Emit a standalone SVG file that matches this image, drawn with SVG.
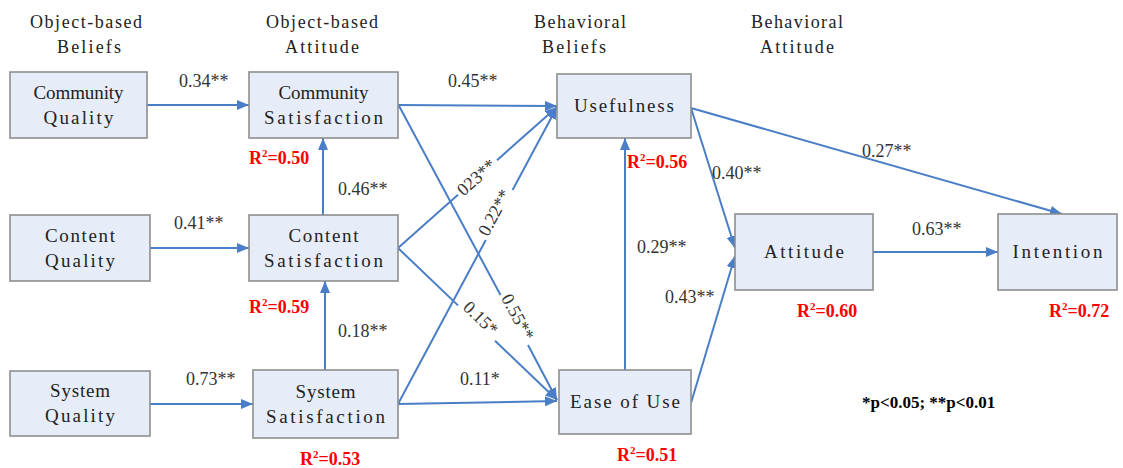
<svg xmlns="http://www.w3.org/2000/svg" width="1123" height="468" viewBox="0 0 1123 468">
<style>
.box{fill:#E7EDF8;stroke:#8E8E8E;stroke-width:1.6}
.bt{font-family:"Liberation Serif",serif;font-size:19px;fill:#222;text-anchor:middle}
.hd{font-family:"Liberation Serif",serif;font-size:18px;fill:#222;text-anchor:middle}
.lb{font-family:"Liberation Serif",serif;font-size:18px;fill:#333}
.rl{font-family:"Liberation Serif",serif;font-size:18px;fill:#333;text-anchor:middle}
.r2{font-family:"Liberation Serif",serif;font-size:18px;font-weight:bold;fill:#FF0000}
.ln{fill:none;stroke:#4A7EC7;stroke-width:2;marker-end:url(#ah)}
</style>
<defs>
<marker id="ah" markerUnits="userSpaceOnUse" markerWidth="14" markerHeight="12" refX="12" refY="5" orient="auto">
<path d="M0,0 L12,5 L0,10 z" fill="#4A7EC7"/>
</marker>
</defs>
<rect width="1123" height="468" fill="#fff"/>
<g id="headers">
<text class="hd" x="86" y="28" textLength="112" lengthAdjust="spacing">Object-based</text>
<text class="hd" x="89" y="53" textLength="64" lengthAdjust="spacing">Beliefs</text>
<text class="hd" x="322" y="28" textLength="112" lengthAdjust="spacing">Object-based</text>
<text class="hd" x="322" y="53" textLength="74" lengthAdjust="spacing">Attitude</text>
<text class="hd" x="580" y="28" textLength="92" lengthAdjust="spacing">Behavioral</text>
<text class="hd" x="574" y="53" textLength="64" lengthAdjust="spacing">Beliefs</text>
<text class="hd" x="797" y="28" textLength="92" lengthAdjust="spacing">Behavioral</text>
<text class="hd" x="797" y="53" textLength="74" lengthAdjust="spacing">Attitude</text>
</g>
<g id="connectors">
<path class="ln" d="M147,105 L249,105"/>
<path class="ln" d="M150,248 L249,248"/>
<path class="ln" d="M150,404 L253,404"/>
<path class="ln" d="M323,215 L323,138"/>
<path class="ln" d="M325,370 L325,281"/>
<path class="ln" d="M398,105 L557,106"/>
<path class="ln" d="M398,104 L500.5,295 M528,345 L557,400"/>
<path class="ln" d="M398,248 L458,194.8 M497,160.2 L557,107"/>
<path class="ln" d="M398,248 L458,305.4 M495,340.7 L557,400"/>
<path class="ln" d="M398,404 L485.8,240 M512.6,190 L557,107"/>
<path class="ln" d="M398,404 L557,401"/>
<path class="ln" d="M625,370 L625,138"/>
<path class="ln" d="M691,108 L735,248"/>
<path class="ln" d="M691,403 L735,256"/>
<path class="ln" d="M691,108 L1062,214"/>
<path class="ln" d="M873,252 L998,252"/>
</g>
<g id="edge-labels">
<text class="lb" x="179" y="87">0.34**</text>
<text class="lb" x="174" y="229">0.41**</text>
<text class="lb" x="186" y="385">0.73**</text>
<text class="lb" x="338" y="195">0.46**</text>
<text class="lb" x="338" y="337">0.18**</text>
<text class="lb" x="448" y="87">0.45**</text>
<text class="lb" x="460" y="385">0.11*</text>
<text class="lb" x="637" y="253">0.29**</text>
<text class="lb" x="712" y="179">0.40**</text>
<text class="lb" x="665" y="303">0.43**</text>
<text class="lb" x="862" y="157">0.27**</text>
<text class="lb" x="912" y="235">0.63**</text>
<text class="rl" transform="translate(516,318) rotate(61.8)" y="4">0.55**</text>
<text class="rl" transform="translate(477,178) rotate(-41.6)" y="5">023**</text>
<text class="rl" transform="translate(478,321) rotate(43.7)" y="2">0.15*</text>
<text class="rl" transform="translate(497,214) rotate(-61.8)" y="3">0.22**</text>
</g>
<g id="community-quality">
<rect class="box" x="10" y="72" width="137" height="66"/>
<text class="bt" x="78.5" y="99" textLength="90" lengthAdjust="spacing">Community</text>
<text class="bt" x="78.5" y="124" textLength="70" lengthAdjust="spacing">Quality</text>
</g>
<g id="community-satisfaction">
<rect class="box" x="249" y="72" width="149" height="66"/>
<text class="bt" x="323.5" y="99" textLength="90" lengthAdjust="spacing">Community</text>
<text class="bt" x="323.5" y="124" textLength="119" lengthAdjust="spacing">Satisfaction</text>
<text class="r2" x="249" y="164">R<tspan dy="-7" font-size="11">2</tspan><tspan dy="7">=0.50</tspan></text>
</g>
<g id="content-quality">
<rect class="box" x="10" y="215" width="140" height="66"/>
<text class="bt" x="80" y="242" textLength="70" lengthAdjust="spacing">Content</text>
<text class="bt" x="80" y="267" textLength="70" lengthAdjust="spacing">Quality</text>
</g>
<g id="content-satisfaction">
<rect class="box" x="249" y="215" width="149" height="66"/>
<text class="bt" x="323.5" y="242" textLength="70" lengthAdjust="spacing">Content</text>
<text class="bt" x="323.5" y="267" textLength="119" lengthAdjust="spacing">Satisfaction</text>
<text class="r2" x="249" y="313">R<tspan dy="-7" font-size="11">2</tspan><tspan dy="7">=0.59</tspan></text>
</g>
<g id="system-quality">
<rect class="box" x="10" y="371" width="140" height="65"/>
<text class="bt" x="80" y="397" textLength="60" lengthAdjust="spacing">System</text>
<text class="bt" x="80" y="422" textLength="70" lengthAdjust="spacing">Quality</text>
</g>
<g id="system-satisfaction">
<rect class="box" x="253" y="370" width="145" height="68"/>
<text class="bt" x="325.5" y="398" textLength="60" lengthAdjust="spacing">System</text>
<text class="bt" x="325.5" y="423" textLength="119" lengthAdjust="spacing">Satisfaction</text>
<text class="r2" x="300" y="465">R<tspan dy="-7" font-size="11">2</tspan><tspan dy="7">=0.53</tspan></text>
</g>
<g id="usefulness">
<rect class="box" x="557" y="74" width="134" height="64"/>
<text class="bt" x="624" y="112" textLength="100" lengthAdjust="spacing">Usefulness</text>
<text class="r2" x="627" y="168">R<tspan dy="-7" font-size="11">2</tspan><tspan dy="7">=0.56</tspan></text>
</g>
<g id="ease-of-use">
<rect class="box" x="559" y="370" width="132" height="64"/>
<text class="bt" x="625" y="408" textLength="110" lengthAdjust="spacing">Ease of Use</text>
<text class="r2" x="617" y="461">R<tspan dy="-7" font-size="11">2</tspan><tspan dy="7">=0.51</tspan></text>
</g>
<g id="attitude">
<rect class="box" x="735" y="214" width="138" height="76"/>
<text class="bt" x="804" y="258" textLength="80" lengthAdjust="spacing">Attitude</text>
<text class="r2" x="797" y="317">R<tspan dy="-7" font-size="11">2</tspan><tspan dy="7">=0.60</tspan></text>
</g>
<g id="intention">
<rect class="box" x="998" y="214" width="119" height="76"/>
<text class="bt" x="1057.5" y="258" textLength="90" lengthAdjust="spacing">Intention</text>
<text class="r2" x="1049" y="317">R<tspan dy="-7" font-size="11">2</tspan><tspan dy="7">=0.72</tspan></text>
</g>
<g id="note">
<text class="r2" style="fill:#000;font-size:17px" x="862" y="408">*p&lt;0.05; **p&lt;0.01</text>
</g>
</svg>
